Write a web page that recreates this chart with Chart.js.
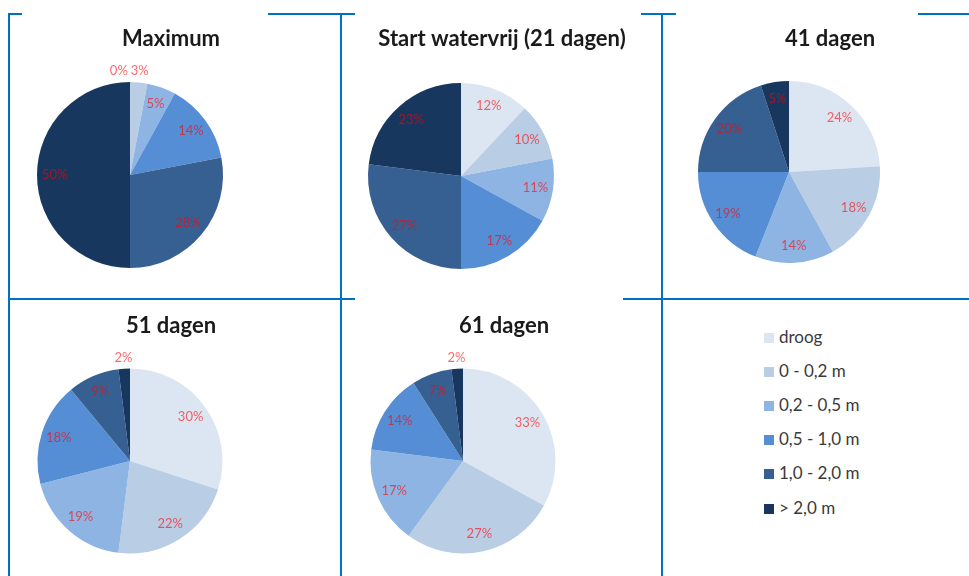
<!DOCTYPE html>
<html>
<head>
<meta charset="utf-8">
<title>Waterdiepte verdeling</title>
<script src="https://cdn.jsdelivr.net/npm/chart.js@4"></script>
<style>
  html, body { margin: 0; padding: 0; background: #ffffff; }
  body { position: relative; width: 969px; height: 576px; overflow: hidden; font-family: Lato, "Liberation Sans", sans-serif; }
  canvas.pie { position: absolute; left: 0; top: 0; }
  .rule { position: absolute; background: #0070C0; }
  .legend { position: absolute; left: 764px; top: 0; }
  .legend-item { position: absolute; left: 0; white-space: nowrap; color: #3a3a3a; font-size: 17px; line-height: 17px; }
  .legend-item span.box { position: absolute; left: 0; top: 3px; width: 10px; height: 10px; }
  .legend-item span.txt { position: absolute; left: 15px; top: -2px; }
</style>
</head>
<body>
<div id="rules"></div>
<div id="legend" class="legend"></div>
<script>
// Depth classes and their share (%) of the area at each moment
const categories = ['droog', '0 - 0,2 m', '0,2 - 0,5 m', '0,5 - 1,0 m', '1,0 - 2,0 m', '> 2,0 m'];
const chartTitles = ['Maximum', 'Start watervrij (21 dagen)', '41 dagen', '51 dagen', '61 dagen'];
const maximum = [0, 3, 5, 14, 28, 50];
const dagen21 = [12, 10, 11, 17, 27, 23];
const dagen41 = [24, 18, 14, 19, 20, 5];
const dagen51 = [30, 22, 19, 18, 9, 2];
const dagen61 = [33, 27, 17, 14, 7, 2];
const seriesList = [maximum, dagen21, dagen41, dagen51, dagen61];

const sliceColors = ['#DCE6F2', '#B9CDE5', '#8EB4E3', '#558ED5', '#376092', '#17375E'];

// Page layout: pie centre, radius and title position per cell
const W = 969, H = 576;
const cells = [
  { cx: 130, cy: 175, r: 93, ty: 39 },
  { cx: 461, cy: 176, r: 93, ty: 39 },
  { cx: 789, cy: 172, r: 91, ty: 39 },
  { cx: 130, cy: 461, r: 92.5, ty: 326 },
  { cx: 463, cy: 461, r: 92.5, ty: 326 }
];

// Table borders (with the gaps where the chart panels sit on top)
const rules = [
  // top edge
  [9, 13, 13, 2], [268, 13, 87, 2], [641, 13, 35, 2], [918, 13, 51, 2],
  // verticals
  [8, 13, 2, 563], [340, 13, 2, 563], [661, 13, 2, 563],
  // middle edge
  [9, 298, 331, 2], [340, 298, 15, 2], [623, 298, 39, 2], [662, 298, 307, 2]
];
const rulesEl = document.getElementById('rules');
rules.forEach(([x, y, w, h]) => {
  const d = document.createElement('div');
  d.className = 'rule';
  d.style.left = x + 'px'; d.style.top = y + 'px';
  d.style.width = w + 'px'; d.style.height = h + 'px';
  rulesEl.appendChild(d);
});

// Shared legend
const legendEl = document.getElementById('legend');
categories.forEach((name, i) => {
  const item = document.createElement('div');
  item.className = 'legend-item';
  item.style.top = (330 + i * 34.1) + 'px';
  const box = document.createElement('span');
  box.className = 'box';
  box.style.background = sliceColors[i];
  const txt = document.createElement('span');
  txt.className = 'txt';
  txt.textContent = name;
  item.appendChild(box);
  item.appendChild(txt);
  legendEl.appendChild(item);
});

// Draws the chart title and the percentage labels of the slices
const pieText = {
  id: 'pieText',
  afterDatasetsDraw(chart, args, opts) {
    const ctx = chart.ctx;
    const meta = chart.getDatasetMeta(0);
    const values = chart.data.datasets[0].data;
    ctx.save();
    // title
    ctx.font = 'bold 22px Lato, "Liberation Sans", sans-serif';
    ctx.fillStyle = '#1a1a1a';
    ctx.textAlign = 'center';
    ctx.textBaseline = 'middle';
    ctx.fillText(opts.title, opts.titleX, opts.titleY);

    // slice labels
    ctx.font = '13px Lato, "Liberation Sans", sans-serif';
    const inside = [], outside = [];
    meta.data.forEach((arc, i) => {
      const p = arc.getProps(['x', 'y', 'startAngle', 'endAngle', 'outerRadius'], true);
      const mid = (p.startAngle + p.endAngle) / 2;
      const small = values[i] < 4;
      const rr = p.outerRadius * (small ? 1.12 : 0.81);
      const text = values[i] + '%';
      const w = ctx.measureText(text).width;
      const lab = { text, x: p.x + Math.cos(mid) * rr, y: p.y + Math.sin(mid) * rr, w };
      (small ? outside : inside).push(lab);
    });
    // keep neighbouring outside labels from overlapping
    for (let i = outside.length - 1; i > 0; i--) {
      const a = outside[i - 1], b = outside[i];
      const overlap = (a.x + a.w / 2 + 3) - (b.x - b.w / 2);
      if (overlap > 0 && Math.abs(a.y - b.y) < 12) a.x -= overlap;
    }
    ctx.fillStyle = 'rgba(255, 0, 0, 0.6)';
    inside.concat(outside).forEach(l => ctx.fillText(l.text, l.x, l.y));
    ctx.restore();
  }
};

seriesList.forEach((values, k) => {
  const c = cells[k];
  const canvas = document.createElement('canvas');
  canvas.className = 'pie';
  canvas.width = W; canvas.height = H;
  canvas.style.width = W + 'px'; canvas.style.height = H + 'px';
  document.body.appendChild(canvas);
  new Chart(canvas, {
    type: 'pie',
    data: {
      labels: categories,
      datasets: [{
        data: values,
        backgroundColor: sliceColors,
        borderWidth: 0,
        hoverOffset: 0
      }]
    },
    options: {
      responsive: false,
      devicePixelRatio: 1,
      animation: false,
      events: [],
      layout: {
        padding: {
          left: c.cx - c.r,
          right: W - c.cx - c.r,
          top: c.cy - c.r,
          bottom: H - c.cy - c.r
        }
      },
      plugins: {
        legend: { display: false },
        title: { display: false },
        tooltip: { enabled: false },
        pieText: { title: chartTitles[k], titleX: c.cx + 41, titleY: c.ty }
      }
    },
    plugins: [pieText]
  });
});
</script>
</body>
</html>
